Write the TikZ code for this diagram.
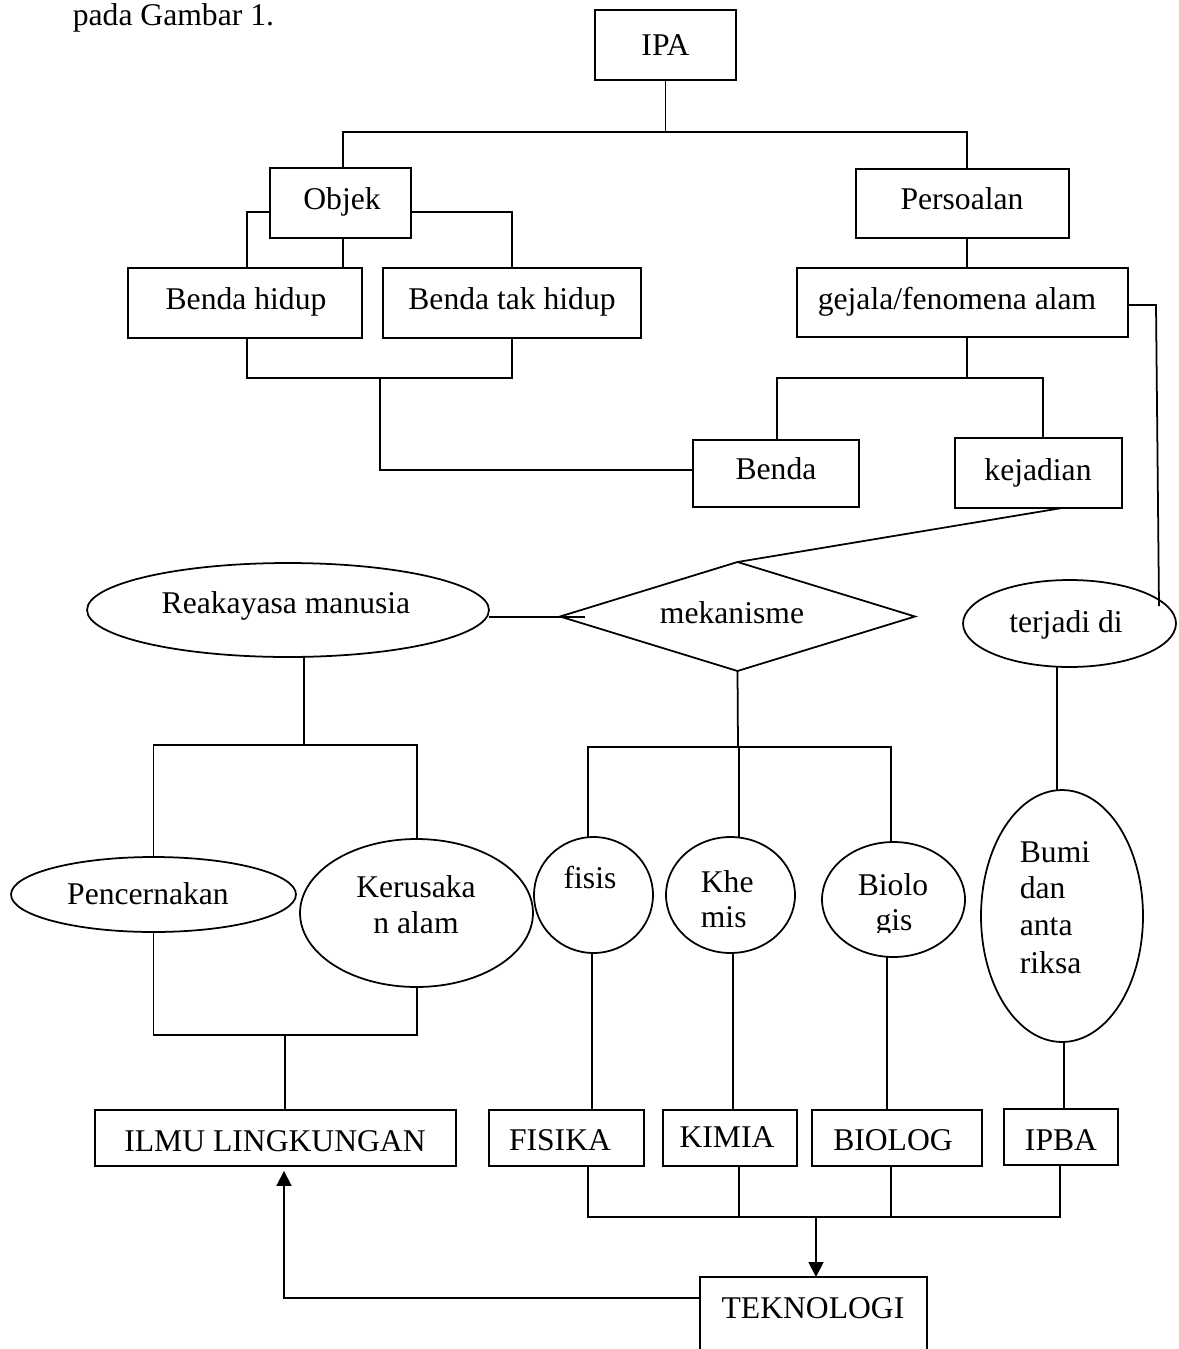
\documentclass[tikz,border=0pt]{standalone}
\usepackage{fontspec}
\setmainfont{Liberation Serif}
\usetikzlibrary{shapes.geometric,arrows.meta}
\begin{document}
\begin{tikzpicture}[x=0.02cm,y=-0.02cm,line width=1pt,
  box/.style={draw, rectangle, inner sep=0pt, outer sep=0pt},
  ell/.style={draw, ellipse, inner sep=0pt, outer sep=0pt},
  dia/.style={draw, diamond, inner sep=0pt, outer sep=0pt},
  txt/.style={anchor=base, inner sep=0pt, font=\fontsize{18}{21}\selectfont},
  txtl/.style={anchor=base west, inner sep=0pt, font=\fontsize{18}{21}\selectfont},
  arr/.style={-{Triangle[length=8.5pt,width=8.5pt]}}
]
\useasboundingbox (0,0) rectangle (1179,1349);
\clip (0,0) rectangle (1179,1349);

% caption fragment
\node[txtl] (cap) at (72,25) {pada Gambar 1.};

% boxes
\node[box, minimum width=2.82cm, minimum height=1.4cm] (ipa) at (665.5,45) {};
\node[box, minimum width=2.82cm, minimum height=1.4cm] (objek) at (340.5,203) {};
\node[box, minimum width=4.26cm, minimum height=1.38cm] (pers) at (962.5,203.5) {};
\node[box, minimum width=4.68cm, minimum height=1.4cm] (bhidup) at (245,303) {};
\node[box, minimum width=5.16cm, minimum height=1.4cm] (btak) at (512,303) {};
\node[box, minimum width=6.62cm, minimum height=1.38cm] (gejala) at (962.5,302.5) {};
\node[box, minimum width=3.32cm, minimum height=1.34cm] (benda) at (776,473.5) {};
\node[box, minimum width=3.34cm, minimum height=1.4cm] (kejadian) at (1038.5,473) {};
\node[box, minimum width=7.22cm, minimum height=1.12cm] (ilmu) at (275.5,1138) {};
\node[box, minimum width=3.1cm, minimum height=1.12cm] (fisika) at (566.5,1138) {};
\node[box, minimum width=2.68cm, minimum height=1.12cm] (kimia) at (730,1138) {};
\node[box, minimum width=3.4cm, minimum height=1.12cm] (biolog) at (897,1138) {};
\node[box, minimum width=2.28cm, minimum height=1.12cm] (ipba) at (1061,1137) {};
\node[box, minimum width=4.54cm, minimum height=2.06cm] (tek) at (813.5,1328.5) {};

% ellipses and diamond
\node[ell, minimum width=8.04cm, minimum height=1.88cm] (reak) at (288,610) {};
\node[dia, minimum width=7.1cm, minimum height=2.18cm] (mek) at (737.5,616.5) {};
\node[ell, minimum width=4.26cm, minimum height=1.74cm] (terjadi) at (1069.5,623.5) {};
\node[ell, minimum width=5.7cm, minimum height=1.5cm] (pencern) at (153.5,894.5) {};
\node[ell, minimum width=4.66cm, minimum height=2.96cm] (kerus) at (416.5,913) {};
\node[ell, minimum width=2.38cm, minimum height=2.32cm] (fisis) at (593.5,895) {};
\node[ell, minimum width=2.58cm, minimum height=2.32cm] (khemis) at (730.5,895) {};
\node[ell, minimum width=2.86cm, minimum height=2.3cm] (biol) at (893.5,899.5) {};
\node[ell, minimum width=3.24cm, minimum height=5.04cm] (bumi) at (1062,916) {};

% texts
\node[txt] (t-ipa) at (665.5,55) {IPA};
\node[txt] (t-objek) at (342,209) {Objek};
\node[txt] (t-pers) at (962,209) {Persoalan};
\node[txt] (t-bhidup) at (246,309) {Benda hidup};
\node[txt] (t-btak) at (512,309) {Benda tak hidup};
\node[txt] (t-gejala) at (957,309) {gejala/fenomena alam};
\node[txt] (t-benda) at (776,479) {Benda};
\node[txt] (t-kejadian) at (1038,480) {kejadian};
\node[txt] (t-reak) at (286,613) {Reakayasa manusia};
\node[txt] (t-mek) at (732,623) {mekanisme};
\node[txt] (t-terjadi) at (1066,632) {terjadi di};
\node[txt] (t-pencern) at (148,904) {Pencernakan};
\node[txt] (t-kerus1) at (416,897) {Kerusaka};
\node[txt] (t-kerus2) at (416,933) {n alam};
\node[txt] (t-fisis) at (590,888) {fisis};
\node[txtl] (t-khe) at (700,892) {Khe};
\node[txtl] (t-mis) at (700,927) {mis};
\node[txt] (t-biolo) at (893,895) {Biolo};
\begin{scope}
  \clip (850,900) rectangle (940,932);
  \node[txt] (t-gis) at (894,930) {gis};
\end{scope}
\node[txtl] (t-bumi1) at (1019,862) {Bumi};
\node[txtl] (t-bumi2) at (1019,898) {dan};
\node[txtl] (t-bumi3) at (1019,935) {anta};
\node[txtl] (t-bumi4) at (1019,973) {riksa};
\node[txt] (t-ilmu) at (275,1151) {ILMU LINGKUNGAN};
\node[txt] (t-fisika) at (560,1150) {FISIKA};
\node[txt] (t-kimia) at (727,1147) {KIMIA};
\node[txt] (t-biolog) at (893,1150) {BIOLOG};
\node[txt] (t-ipba) at (1061,1150) {IPBA};
\node[txt] (t-tek) at (813,1318) {TEKNOLOGI};

% connectors: top tree
\coordinate (jtop) at (665.5,132);
\draw (ipa.south) -- (jtop);
\draw (objek.north -| 343,0) |- (jtop) -| (pers.north -| 967,0);
\draw (objek.west |- 0,212) -| (bhidup.north -| 247,0);
\draw (objek.south -| 343,0) -- (bhidup.north -| 343,0);
\draw (objek.east |- 0,212) -| (btak.north);
\draw (bhidup.south -| 247,0) |- (btak.south |- 0,378) -- (btak.south);
\draw (380,378) |- (benda.west |- 0,470);
\draw (pers.south -| 967,0) -- (gejala.north -| 967,0);
\draw (gejala.south -| 967,0) -- (967,378);
\draw (benda.north -| 777,0) |- (1043,378) -- (kejadian.north -| 1043,0);
\draw (gejala.east |- 0,305) -- (1156,305) -- (1159,606);

% middle
\draw (kejadian.south -| 1062,0) -- (mek.north);
\draw (reak.east |- 0,617) -- (585,617);
\draw (mek.south) -- (738,747);
\draw (fisis.north -| 588,0) |- (891,747) -- (biol.north -| 891,0);
\draw (khemis.north -| 739,0) -- (739,747);
\draw (reak.south -| 304,0) -- (304,745);
\draw (pencern.north) |- (417,745) -- (kerus.north -| 417,0);
\draw (terjadi.south -| 1057,0) -- (bumi.north -| 1057,0);

% lower
\draw (pencern.south) |- (417,1035) -- (kerus.south -| 417,0);
\draw (285,1035) -- (ilmu.north -| 285,0);
\draw (fisis.south -| 592,0) -- (fisika.north -| 592,0);
\draw (khemis.south -| 733,0) -- (kimia.north -| 733,0);
\draw (biol.south -| 887,0) -- (biolog.north -| 887,0);
\draw (bumi.south -| 1064,0) -- (ipba.north -| 1064,0);

% bottom bus
\draw (fisika.south -| 588,0) |- (1060,1217) -- (ipba.south -| 1060,0);
\draw (kimia.south -| 739,0) -- (739,1217);
\draw (biolog.south -| 891,0) -- (891,1217);
\draw[arr] (816,1217) -- (tek.north -| 816,0);
\draw[arr, shorten >=2.8pt] (tek.west |- 0,1298) -| (ilmu.south -| 284,0);
\end{tikzpicture}
\end{document}
